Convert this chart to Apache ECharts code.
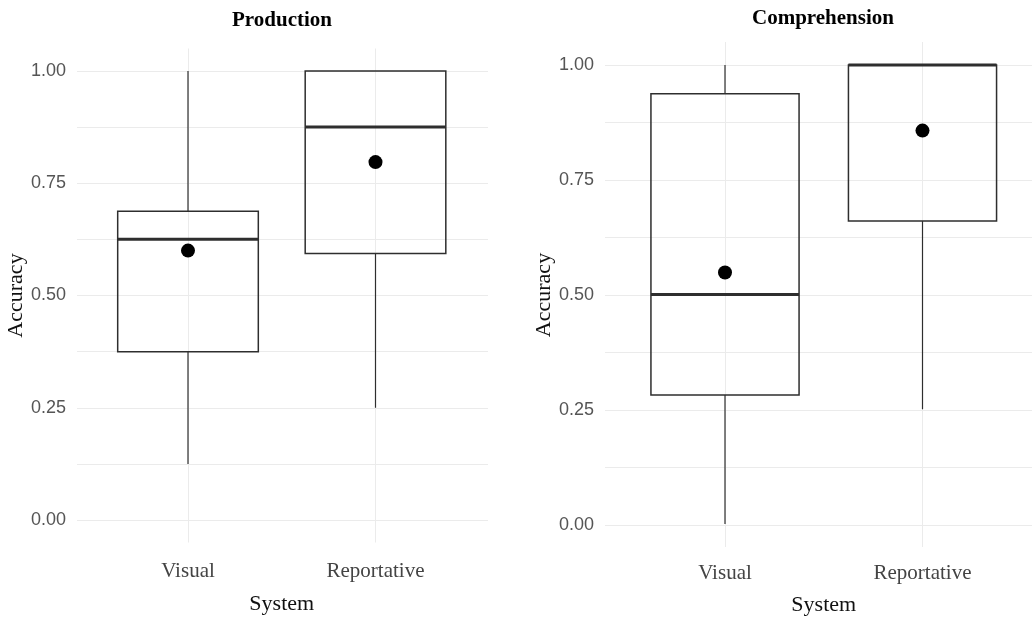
<!DOCTYPE html>
<html>
<head>
<meta charset="utf-8">
<script src="https://cdn.jsdelivr.net/npm/echarts@6/dist/echarts.min.js"></script>
<style>html,body{margin:0;padding:0;background:#fff}#c{width:1032px;height:621px}</style>
</head>
<body>
<div id="c"></div>
<script>
// ---- data ----
const categories = ['Visual', 'Reportative'];
const panelTitles = ['Production', 'Comprehension'];
const yTickValues = [0, 0.25, 0.5, 0.75, 1];
// boxplot stats: [min, Q1, median, Q3, max]
const prodVisualBox = [0.125, 0.375, 0.625, 0.6875, 1.0];
const prodReportBox = [0.25, 0.59375, 0.875, 1.0, 1.0];
const prodMeans = [0.60, 0.797];
const compVisualBox = [0.0, 0.28125, 0.5, 0.9375, 1.0];
const compReportBox = [0.25, 0.66, 1.0, 1.0, 1.0];
const compMeans = [0.548, 0.857];

const chart = echarts.init(document.getElementById('c'));
const GRID = '#ebebeb';
const INK = '#2e2e2e';
const SERIF = '"Liberation Serif", "DejaVu Serif", serif';
const SANS = '"Liberation Sans Narrow", "Liberation Sans", sans-serif';

function renderBox(params, api) {
  const idx = api.value(0);
  const lo = api.value(1), q1 = api.value(2), med = api.value(3), q3 = api.value(4), hi = api.value(5);
  const band = api.coord([1, 0])[0] - api.coord([0, 0])[0];
  const half = Math.abs(band) * 0.75 / 2;
  const pLo = api.coord([idx, lo]), pQ1 = api.coord([idx, q1]), pMed = api.coord([idx, med]);
  const pQ3 = api.coord([idx, q3]), pHi = api.coord([idx, hi]);
  const x = pMed[0];
  const children = [];
  if (Math.abs(pHi[1] - pQ3[1]) > 0.5) children.push({type: 'line', shape: {x1: x, y1: pQ3[1], x2: x, y2: pHi[1]}, style: {stroke: INK, lineWidth: 1.2}});
  if (Math.abs(pLo[1] - pQ1[1]) > 0.5) children.push({type: 'line', shape: {x1: x, y1: pQ1[1], x2: x, y2: pLo[1]}, style: {stroke: INK, lineWidth: 1.2}});
  children.push({type: 'rect', shape: {x: x - half, y: pQ3[1], width: half * 2, height: pQ1[1] - pQ3[1]}, style: {fill: 'rgba(255,255,255,0)', stroke: INK, lineWidth: 1.5}});
  children.push({type: 'line', shape: {x1: x - half, y1: pMed[1], x2: x + half, y2: pMed[1]}, style: {stroke: INK, lineWidth: 3}});
  return {type: 'group', children: children};
}

function yLabel(v) {
  for (const t of yTickValues) if (Math.abs(t - v) < 1e-6) return v.toFixed(2);
  return '';
}

const panels = [
  {A: {left: 77, top: 71, width: 411, height: 449}, B: {left: 188, top: 48.5, width: 187.5, height: 494}, nameGapY: 49, labelMargin: 18, nameGapX: 51, box: [prodVisualBox, prodReportBox], means: prodMeans},
  {A: {left: 605, top: 65, width: 435, height: 460}, B: {left: 725, top: 42, width: 197.5, height: 506}, nameGapY: 49, labelMargin: 16, nameGapX: 47, box: [compVisualBox, compReportBox], means: compMeans}
];

const grid = [], xAxis = [], yAxis = [], series = [];
panels.forEach((p, i) => {
  const a = grid.length;
  grid.push(Object.assign({containLabel: false}, p.A));
  grid.push(Object.assign({containLabel: false}, p.B));
  xAxis.push({gridIndex: a, type: 'category', data: categories, show: false});
  xAxis.push({
    gridIndex: a + 1, type: 'category', data: categories, boundaryGap: false,
    axisLine: {show: false}, axisTick: {show: false},
    splitLine: {show: true, interval: 0, lineStyle: {color: GRID, width: 1}},
    axisLabel: {interval: 0, margin: p.labelMargin, fontFamily: SERIF, fontSize: 21, color: '#444'},
    name: 'System', nameLocation: 'middle', nameGap: p.nameGapX,
    nameTextStyle: {fontFamily: SERIF, fontSize: 22, color: '#111'}
  });
  yAxis.push({
    gridIndex: a, type: 'value', min: 0, max: 1, interval: 0.125,
    axisLine: {show: false}, axisTick: {show: false},
    splitLine: {show: true, lineStyle: {color: GRID, width: 1}},
    axisLabel: {formatter: yLabel, margin: 11, fontFamily: SANS, fontSize: 18, color: '#555'},
    name: 'Accuracy', nameLocation: 'middle', nameGap: p.nameGapY, nameRotate: 90,
    nameTextStyle: {fontFamily: SERIF, fontSize: 22, color: '#111'}
  });
  yAxis.push({gridIndex: a + 1, type: 'value', min: -0.05, max: 1.05, show: false, splitLine: {show: false}});
  series.push({
    type: 'custom', xAxisIndex: a + 1, yAxisIndex: a + 1, clip: false,
    renderItem: renderBox,
    encode: {x: 0, y: [1, 2, 3, 4, 5]},
    data: p.box.map((b, k) => [k].concat(b)),
    z: 3
  });
  series.push({
    type: 'scatter', xAxisIndex: a + 1, yAxisIndex: a + 1, clip: false,
    symbol: 'circle', symbolSize: 14, itemStyle: {color: '#000', opacity: 1},
    data: p.means.map((m, k) => [k, m]), z: 4
  });
});

chart.setOption({
  animation: false,
  backgroundColor: '#fff',
  grid: grid, xAxis: xAxis, yAxis: yAxis, series: series,
  graphic: [
    {type: 'text', x: 282, y: 10, style: {text: panelTitles[0], font: 'bold 21px "Liberation Serif", serif', fill: '#000', textAlign: 'center', textVerticalAlign: 'top'}},
    {type: 'text', x: 823, y: 8, style: {text: panelTitles[1], font: 'bold 21px "Liberation Serif", serif', fill: '#000', textAlign: 'center', textVerticalAlign: 'top'}}
  ]
});
</script>
</body>
</html>
